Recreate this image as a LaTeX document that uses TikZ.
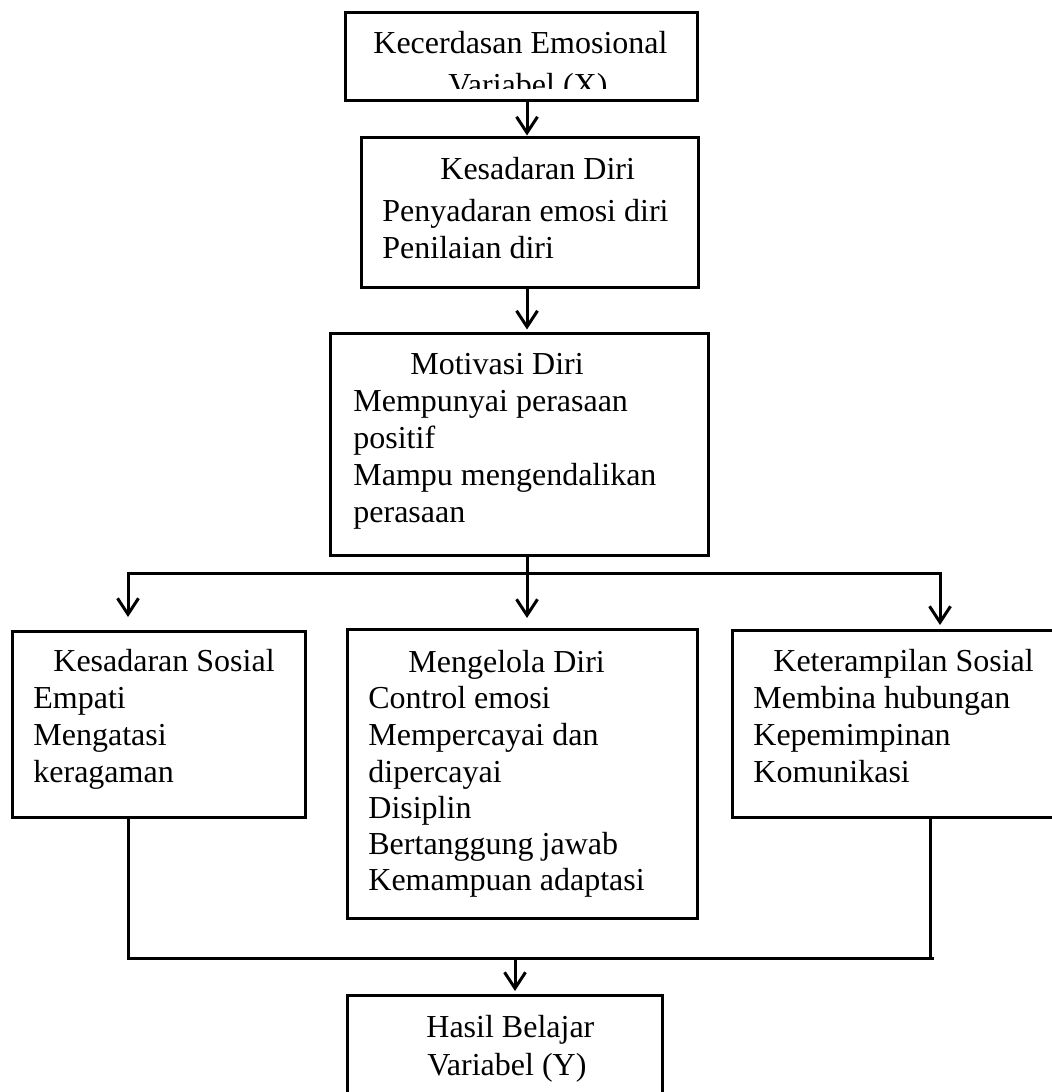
\documentclass[tikz,border=0pt]{standalone}
\usepackage{fontspec}
\setmainfont{Liberation Serif}
\usetikzlibrary{arrows.meta}
\begin{document}
\begin{tikzpicture}[x=0.5pt,y=-0.5pt,
  box/.style={draw=black,line width=1.5pt,rectangle,inner sep=0pt,minimum width=#1},
  txt/.style={anchor=base west,inner sep=0pt,font=\fontsize{16}{18}\selectfont},
  conn/.style={line width=1.5pt,line cap=rect},
  arr/.style={line width=1.5pt,-{Straight Barb[length=8pt,width=10.5pt]}}]
\useasboundingbox (0,0) rectangle (1051,1092);
% boxes
\node[box=176pt,minimum height=44pt] (bx) at (521,56) {};
\node[box=168.5pt,minimum height=75pt] (b2) at (529.5,212) {};
\node[box=189pt,minimum height=111pt] (b3) at (519,444) {};
\node[box=146.5pt,minimum height=93pt] (bl) at (158.5,724) {};
\node[box=175pt,minimum height=144.5pt] (bm) at (522,773.5) {};
\node[box=174pt,minimum height=93.5pt] (br) at (906,723.5) {};
\node[box=157.5pt,minimum height=60pt] (by) at (504.5,1055) {};
% texts
\begin{scope}
\clip (345,12) rectangle (697,88);
\node[txt] (t1) at (373,54) {Kecerdasan Emosional};
\node[txt] (t2) at (448,95) {Variabel (X)};
\end{scope}
\node[txt] (t3) at (440,179) {Kesadaran Diri};
\node[txt] (t4) at (382,221) {Penyadaran emosi diri};
\node[txt] (t5) at (382,258) {Penilaian diri};
\node[txt] (t6) at (410,374) {Motivasi Diri};
\node[txt] (t7) at (353,411) {Mempunyai perasaan};
\node[txt] (t8) at (353,448) {positif};
\node[txt] (t9) at (353,485) {Mampu mengendalikan};
\node[txt] (t10) at (353,522) {perasaan};
\node[txt] (t11) at (53,671) {Kesadaran Sosial};
\node[txt] (t12) at (33,708) {Empati};
\node[txt] (t13) at (33,745) {Mengatasi};
\node[txt] (t14) at (33,782) {keragaman};
\node[txt] (t15) at (408,672) {Mengelola Diri};
\node[txt] (t16) at (368,708) {Control emosi};
\node[txt] (t17) at (368,745) {Mempercayai dan};
\node[txt] (t18) at (368,782) {dipercayai};
\node[txt] (t19) at (368,818) {Disiplin};
\node[txt] (t20) at (368,854) {Bertanggung jawab};
\node[txt] (t21) at (368,890) {Kemampuan adaptasi};
\node[txt] (t22) at (773,671) {Keterampilan Sosial};
\node[txt] (t23) at (753,708) {Membina hubungan};
\node[txt] (t24) at (753,745) {Kepemimpinan};
\node[txt] (t25) at (753,782) {Komunikasi};
\node[txt] (t26) at (426,1037) {Hasil Belajar};
\node[txt] (t27) at (427,1075) {Variabel (Y)};
% junction coordinates
\coordinate (ax) at (527,0);
\coordinate (jm) at (527,573);
\coordinate (jl) at (128,573);
\coordinate (jr) at (940,573);
\coordinate (el) at (128,617);
\coordinate (em) at (527,618);
\coordinate (er) at (940,625);
\coordinate (dl) at (128,958);
\coordinate (dr) at (930,958);
\coordinate (de) at (932,958);
\coordinate (dm) at (515,958);
\coordinate (ey) at (515,991);
% connectors
\draw[arr] (bx.south -| ax) -- (b2.north -| ax);
\draw[arr] (b2.south -| ax) -- ([yshift=1pt]b3.north -| ax);
\draw[conn] (b3.south -| ax) -- (jm);
\draw[conn] (jl) -- (jr);
\draw[arr] (jl) -- (el);
\draw[arr] (jm) -- (em);
\draw[arr] (jr) -- (er);
\draw[conn] (bl.south -| jl) -- (dl);
\draw[conn] (br.south -| dr) -- (dr);
\draw[conn] (dl) -- (de);
\draw[arr] (dm) -- (ey);
\end{tikzpicture}
\end{document}
